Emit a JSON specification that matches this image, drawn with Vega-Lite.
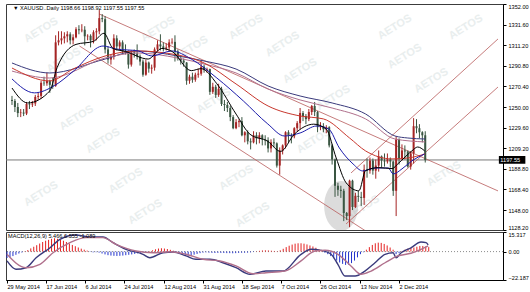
{
"$schema": "https://vega.github.io/schema/vega-lite/v6.json",
"padding": {"left": 3, "top": 3, "right": 2, "bottom": 2},
"background": "#ffffff",
"spacing": 2,
"bounds": "flush",
"config": {
  "view": {"stroke": "#3c3c3c", "strokeWidth": 1},
  "font": "Liberation Sans",
  "axis": {"labelFont": "Liberation Sans", "labelFontSize": 5.6, "labelColor": "#000000", "domainColor": "#000000", "tickColor": "#000000", "grid": false, "title": null, "labelOverlap": false, "labelBound": false}
},
"datasets": {
"candles": [
{"i":0,"o":1257,"h":1261,"l":1252,"c":1256,"m":-5},
{"i":1,"o":1256,"h":1258,"l":1245,"c":1250,"m":-4.5},
{"i":2,"o":1250,"h":1254,"l":1240,"c":1244,"m":-3.5},
{"i":3,"o":1244,"h":1248,"l":1240,"c":1244.5,"m":-2.5},
{"i":4,"o":1244.5,"h":1248,"l":1241,"c":1243.5,"m":-1.5},
{"i":5,"o":1243.5,"h":1255,"l":1242,"c":1253,"m":-0.7},
{"i":6,"o":1253,"h":1256,"l":1248,"c":1252.5,"m":0.3},
{"i":7,"o":1252.5,"h":1256,"l":1250,"c":1253.5,"m":1.2},
{"i":8,"o":1253.5,"h":1262,"l":1251,"c":1260,"m":2.5},
{"i":9,"o":1260,"h":1264,"l":1257,"c":1261,"m":3.8},
{"i":10,"o":1261,"h":1276,"l":1258,"c":1274,"m":5},
{"i":11,"o":1274,"h":1280,"l":1271,"c":1273.5,"m":6.3},
{"i":12,"o":1273.5,"h":1284,"l":1271,"c":1276,"m":7.5},
{"i":13,"o":1276,"h":1277,"l":1264,"c":1272,"m":8.5},
{"i":14,"o":1272,"h":1279,"l":1268,"c":1271,"m":9.2},
{"i":15,"o":1271,"h":1321,"l":1270,"c":1314,"m":10},
{"i":16,"o":1314,"h":1325,"l":1311,"c":1316,"m":10.4},
{"i":17,"o":1316,"h":1325,"l":1312,"c":1318,"m":10},
{"i":18,"o":1318,"h":1324,"l":1313,"c":1320,"m":9.3},
{"i":19,"o":1320,"h":1325,"l":1314,"c":1322,"m":8.5},
{"i":20,"o":1322,"h":1324,"l":1312,"c":1316,"m":7.5},
{"i":21,"o":1316,"h":1322,"l":1312,"c":1319,"m":6.3},
{"i":22,"o":1319,"h":1329,"l":1318,"c":1327,"m":5.2},
{"i":23,"o":1327,"h":1331,"l":1322,"c":1326,"m":4.2},
{"i":24,"o":1326,"h":1332,"l":1324,"c":1326.5,"m":3.2},
{"i":25,"o":1326.5,"h":1330,"l":1311,"c":1320,"m":2.3},
{"i":26,"o":1320,"h":1322,"l":1316,"c":1320.5,"m":1.5},
{"i":27,"o":1320.5,"h":1322,"l":1309,"c":1316,"m":0.8},
{"i":28,"o":1316,"h":1326,"l":1313,"c":1324,"m":-0.3},
{"i":29,"o":1324,"h":1328,"l":1316,"c":1325,"m":-0.6},
{"i":30,"o":1325,"h":1346,"l":1322,"c":1338,"m":-0.5},
{"i":31,"o":1338,"h":1342,"l":1334,"c":1337,"m":-0.8},
{"i":32,"o":1337,"h":1340,"l":1303,"c":1307,"m":-1.5},
{"i":33,"o":1307,"h":1310,"l":1293,"c":1297,"m":-2.2},
{"i":34,"o":1297,"h":1302,"l":1292,"c":1300,"m":-2.8},
{"i":35,"o":1300,"h":1322,"l":1297,"c":1318,"m":-3.1},
{"i":36,"o":1318,"h":1321,"l":1306,"c":1310,"m":-3.3},
{"i":37,"o":1310,"h":1316,"l":1306,"c":1314,"m":-3.4},
{"i":38,"o":1314,"h":1316,"l":1303,"c":1305,"m":-3.3},
{"i":39,"o":1305,"h":1312,"l":1302,"c":1304,"m":-3.1},
{"i":40,"o":1304,"h":1306,"l":1288,"c":1292,"m":-2.8},
{"i":41,"o":1292,"h":1306,"l":1290,"c":1304,"m":-2.5},
{"i":42,"o":1304,"h":1307,"l":1299,"c":1303,"m":-2.2},
{"i":43,"o":1303,"h":1312,"l":1297,"c":1300,"m":-1.8},
{"i":44,"o":1300,"h":1302,"l":1291,"c":1295,"m":-1.4},
{"i":45,"o":1295,"h":1297,"l":1280,"c":1282,"m":-1.0},
{"i":46,"o":1282,"h":1297,"l":1281,"c":1294,"m":-0.6},
{"i":47,"o":1294,"h":1295,"l":1284,"c":1288,"m":-0.2},
{"i":48,"o":1288,"h":1292,"l":1283,"c":1289,"m":0.3},
{"i":49,"o":1289,"h":1309,"l":1286,"c":1307,"m":1.0},
{"i":50,"o":1307,"h":1316,"l":1305,"c":1312,"m":1.8},
{"i":51,"o":1312,"h":1322,"l":1306,"c":1310,"m":2.4},
{"i":52,"o":1310,"h":1314,"l":1305,"c":1308,"m":2.6},
{"i":53,"o":1308,"h":1313,"l":1306,"c":1309,"m":2.4},
{"i":54,"o":1309,"h":1317,"l":1305,"c":1314,"m":2.0},
{"i":55,"o":1314,"h":1318,"l":1312,"c":1314.5,"m":1.4},
{"i":56,"o":1314.5,"h":1321,"l":1295,"c":1305,"m":0.7},
{"i":57,"o":1305,"h":1307,"l":1296,"c":1298,"m":-0.8},
{"i":58,"o":1298,"h":1300,"l":1292,"c":1296,"m":-1.6},
{"i":59,"o":1296,"h":1298,"l":1290,"c":1294,"m":-2.3},
{"i":60,"o":1294,"h":1294.5,"l":1272,"c":1276,"m":-2.9},
{"i":61,"o":1276,"h":1282,"l":1273,"c":1280,"m":-3.1},
{"i":62,"o":1280,"h":1284,"l":1274,"c":1277,"m":-2.9},
{"i":63,"o":1277,"h":1284,"l":1275,"c":1282,"m":-2.4},
{"i":64,"o":1282,"h":1288,"l":1279,"c":1283,"m":-1.8},
{"i":65,"o":1283,"h":1296,"l":1281,"c":1290,"m":-1.2},
{"i":66,"o":1290,"h":1292,"l":1284,"c":1287,"m":-0.8},
{"i":67,"o":1287,"h":1289,"l":1284,"c":1287.5,"m":-0.6},
{"i":68,"o":1287.5,"h":1288,"l":1262,"c":1265,"m":-0.8},
{"i":69,"o":1265,"h":1274,"l":1263,"c":1270,"m":-1.0},
{"i":70,"o":1270,"h":1272,"l":1259,"c":1262,"m":-1.1},
{"i":71,"o":1262,"h":1273,"l":1260,"c":1268,"m":-1.0},
{"i":72,"o":1268,"h":1270,"l":1251,"c":1253,"m":-1.0},
{"i":73,"o":1253,"h":1257,"l":1246,"c":1252,"m":-1.1},
{"i":74,"o":1252,"h":1255,"l":1245,"c":1249,"m":-1.2},
{"i":75,"o":1249,"h":1251,"l":1236,"c":1240,"m":-1.2},
{"i":76,"o":1240,"h":1242,"l":1228,"c":1229,"m":-1.3},
{"i":77,"o":1229,"h":1238,"l":1228,"c":1235,"m":-1.2},
{"i":78,"o":1235,"h":1238,"l":1230,"c":1236,"m":-1.0},
{"i":79,"o":1236,"h":1240,"l":1221,"c":1222,"m":-0.9},
{"i":80,"o":1222,"h":1226,"l":1215,"c":1225,"m":-0.9},
{"i":81,"o":1225,"h":1227,"l":1213,"c":1216,"m":-0.8},
{"i":82,"o":1216,"h":1219,"l":1208,"c":1215,"m":-0.6},
{"i":83,"o":1215,"h":1226,"l":1214,"c":1222,"m":-0.3},
{"i":84,"o":1222,"h":1225,"l":1213,"c":1219,"m":0.2},
{"i":85,"o":1219,"h":1225,"l":1214,"c":1222,"m":0.6},
{"i":86,"o":1222,"h":1223,"l":1212,"c":1218,"m":0.9},
{"i":87,"o":1218,"h":1222,"l":1212,"c":1217,"m":1.0},
{"i":88,"o":1217,"h":1220,"l":1205,"c":1209,"m":0.9},
{"i":89,"o":1209,"h":1218,"l":1205,"c":1215,"m":0.7},
{"i":90,"o":1215,"h":1219,"l":1210,"c":1214,"m":0.5},
{"i":91,"o":1214,"h":1215,"l":1190,"c":1192,"m":0.3},
{"i":92,"o":1192,"h":1210,"l":1183,"c":1207,"m":1.0},
{"i":93,"o":1207,"h":1213,"l":1203,"c":1212,"m":2.2},
{"i":94,"o":1212,"h":1226,"l":1209,"c":1225,"m":3.5},
{"i":95,"o":1225,"h":1227,"l":1215,"c":1222,"m":4.6},
{"i":96,"o":1222,"h":1224,"l":1214,"c":1221,"m":5.5},
{"i":97,"o":1221,"h":1230,"l":1219,"c":1229,"m":6.2},
{"i":98,"o":1229,"h":1236,"l":1226,"c":1234,"m":6.5},
{"i":99,"o":1234,"h":1249,"l":1228,"c":1244,"m":6.5},
{"i":100,"o":1244,"h":1246,"l":1236,"c":1241,"m":6.2},
{"i":101,"o":1241,"h":1243,"l":1233,"c":1238,"m":5.6},
{"i":102,"o":1238,"h":1248,"l":1236,"c":1245,"m":4.8},
{"i":103,"o":1245,"h":1252,"l":1242,"c":1251,"m":4.0},
{"i":104,"o":1251,"h":1255,"l":1241,"c":1245,"m":3.0},
{"i":105,"o":1245,"h":1246,"l":1225,"c":1230,"m":1.8},
{"i":106,"o":1230,"h":1235,"l":1227,"c":1231,"m":0.6},
{"i":107,"o":1231,"h":1234,"l":1225,"c":1228,"m":-0.8},
{"i":108,"o":1228,"h":1232,"l":1224,"c":1230,"m":-2.0},
{"i":109,"o":1230,"h":1231,"l":1210,"c":1212,"m":-3.5},
{"i":110,"o":1212,"h":1213,"l":1193,"c":1198,"m":-5.2},
{"i":111,"o":1198,"h":1199,"l":1161,"c":1172,"m":-7.0},
{"i":112,"o":1172,"h":1175,"l":1162,"c":1168,"m":-8.5},
{"i":113,"o":1168,"h":1172,"l":1160,"c":1167,"m":-9.6},
{"i":114,"o":1167,"h":1169,"l":1137,"c":1145,"m":-10.4},
{"i":115,"o":1145,"h":1146,"l":1138,"c":1142,"m":-10.2},
{"i":116,"o":1142,"h":1178,"l":1131,"c":1177,"m":-9.0},
{"i":117,"o":1177,"h":1178,"l":1148,"c":1151,"m":-7.0},
{"i":118,"o":1151,"h":1165,"l":1150,"c":1162,"m":-4.5},
{"i":119,"o":1162,"h":1167,"l":1156,"c":1161,"m":-2.0},
{"i":120,"o":1161,"h":1166,"l":1152,"c":1160,"m":-0.5},
{"i":121,"o":1160,"h":1193,"l":1153,"c":1188,"m":1.5},
{"i":122,"o":1188,"h":1199,"l":1180,"c":1187,"m":3.5},
{"i":123,"o":1187,"h":1200,"l":1184,"c":1197,"m":5.2},
{"i":124,"o":1197,"h":1199,"l":1183,"c":1187,"m":6.5},
{"i":125,"o":1187,"h":1198,"l":1179,"c":1192,"m":7.0},
{"i":126,"o":1192,"h":1207,"l":1186,"c":1201,"m":6.8},
{"i":127,"o":1201,"h":1202,"l":1190,"c":1197,"m":6.0},
{"i":128,"o":1197,"h":1204,"l":1191,"c":1196,"m":4.8},
{"i":129,"o":1196,"h":1204,"l":1194,"c":1198,"m":3.2},
{"i":130,"o":1198,"h":1200,"l":1190,"c":1196,"m":1.5},
{"i":131,"o":1196,"h":1197,"l":1162,"c":1167,"m":-2.0},
{"i":132,"o":1167,"h":1221,"l":1142,"c":1218,"m":-1.2},
{"i":133,"o":1218,"h":1219,"l":1193,"c":1199,"m":0.5},
{"i":134,"o":1199,"h":1213,"l":1197,"c":1207,"m":1.5},
{"i":135,"o":1207,"h":1212,"l":1198,"c":1206,"m":2.3},
{"i":136,"o":1206,"h":1207,"l":1190,"c":1191,"m":2.8},
{"i":137,"o":1191,"h":1206,"l":1188,"c":1204,"m":3.2},
{"i":138,"o":1204,"h":1239,"l":1194,"c":1231,"m":3.8},
{"i":139,"o":1231,"h":1238,"l":1224,"c":1229,"m":4.4},
{"i":140,"o":1229,"h":1233,"l":1219,"c":1225,"m":4.4},
{"i":141,"o":1225,"h":1226,"l":1215,"c":1222,"m":4.0},
{"i":142,"o":1222,"h":1226,"l":1195,"c":1197.55,"m":3.5}
],
"ma": [
{"s":"s1","i":0,"p":1293.6},{"s":"s1","i":13,"p":1283.7},{"s":"s1","i":32,"p":1297.5},{"s":"s1","i":43,"p":1305.5},{"s":"s1","i":57,"p":1300.5},{"s":"s1","i":66,"p":1295.6},{"s":"s1","i":77,"p":1287.6},{"s":"s1","i":88,"p":1270.8},{"s":"s1","i":99,"p":1260.9},{"s":"s1","i":110,"p":1254},{"s":"s1","i":121.5,"p":1243.1},{"s":"s1","i":131.6,"p":1221.3},{"s":"s1","i":136,"p":1219.3},{"s":"s1","i":142,"p":1218.3},
{"s":"s2","i":0,"p":1285.6},{"s":"s2","i":13,"p":1278.7},{"s":"s2","i":32,"p":1298.5},{"s":"s2","i":43,"p":1303.5},{"s":"s2","i":57,"p":1298.5},{"s":"s2","i":66,"p":1292.6},{"s":"s2","i":77,"p":1283.7},{"s":"s2","i":88,"p":1267.8},{"s":"s2","i":99,"p":1257},{"s":"s2","i":110,"p":1249},{"s":"s2","i":121.5,"p":1238.2},{"s":"s2","i":131.6,"p":1218.3},{"s":"s2","i":142,"p":1215.4},
{"s":"s3","i":0,"p":1288.6},{"s":"s3","i":13,"p":1275.8},{"s":"s3","i":21,"p":1287.6},{"s":"s3","i":32,"p":1300.5},{"s":"s3","i":43,"p":1305.5},{"s":"s3","i":55,"p":1302.5},{"s":"s3","i":66,"p":1293.6},{"s":"s3","i":77,"p":1272.8},{"s":"s3","i":88,"p":1251},{"s":"s3","i":99,"p":1241.1},{"s":"s3","i":107,"p":1238.2},{"s":"s3","i":116,"p":1219.3},{"s":"s3","i":121.5,"p":1206.5},{"s":"s3","i":130.6,"p":1198.6},{"s":"s3","i":136,"p":1199.5},{"s":"s3","i":142,"p":1203.5},
{"s":"s4","i":0,"p":1277.8},{"s":"s4","i":7.7,"p":1264},{"s":"s4","i":14.5,"p":1271},{"s":"s4","i":21.2,"p":1285.7},{"s":"s4","i":31.3,"p":1310.4},{"s":"s4","i":35.7,"p":1307.5},{"s":"s4","i":43.4,"p":1305.5},{"s":"s4","i":48.1,"p":1300.5},{"s":"s4","i":54.9,"p":1305.5},{"s":"s4","i":61.6,"p":1297.5},{"s":"s4","i":70.4,"p":1278.7},{"s":"s4","i":79.5,"p":1256},{"s":"s4","i":87.9,"p":1233.2},{"s":"s4","i":93.6,"p":1221.3},{"s":"s4","i":99,"p":1224.3},{"s":"s4","i":104.7,"p":1231.2},{"s":"s4","i":108.8,"p":1228.2},{"s":"s4","i":112.5,"p":1209.4},{"s":"s4","i":117.2,"p":1193.6},{"s":"s4","i":120.5,"p":1186.7},{"s":"s4","i":124.9,"p":1189.6},{"s":"s4","i":129.3,"p":1189.6},{"s":"s4","i":131,"p":1183.7},{"s":"s4","i":134,"p":1188.7},{"s":"s4","i":137.4,"p":1196.6},{"s":"s4","i":141.8,"p":1203.5},
{"s":"s5","i":0,"p":1268.8},{"s":"s5","i":5.4,"p":1254},{"s":"s5","i":13,"p":1266},{"s":"s5","i":15.5,"p":1289},{"s":"s5","i":22,"p":1312},{"s":"s5","i":28,"p":1315},{"s":"s5","i":31.6,"p":1323},{"s":"s5","i":34.7,"p":1308},{"s":"s5","i":39,"p":1305},{"s":"s5","i":46.8,"p":1297.5},{"s":"s5","i":51.5,"p":1308},{"s":"s5","i":55,"p":1305},{"s":"s5","i":61.6,"p":1286},{"s":"s5","i":65,"p":1288},{"s":"s5","i":70.4,"p":1273},{"s":"s5","i":77,"p":1243},{"s":"s5","i":81.8,"p":1223},{"s":"s5","i":87.9,"p":1216},{"s":"s5","i":92.3,"p":1206},{"s":"s5","i":97,"p":1223},{"s":"s5","i":103.7,"p":1233},{"s":"s5","i":108,"p":1228},{"s":"s5","i":111.4,"p":1199.5},{"s":"s5","i":114.8,"p":1175},{"s":"s5","i":119.2,"p":1167},{"s":"s5","i":121.5,"p":1187},{"s":"s5","i":126,"p":1190},{"s":"s5","i":130.6,"p":1189},{"s":"s5","i":132.7,"p":1194},{"s":"s5","i":137.4,"p":1206.5},{"s":"s5","i":139.4,"p":1210.4},{"s":"s5","i":141.8,"p":1206.5}
],
"macdl": [
{"s":"macd","i":0,"v":-7.3},{"s":"macd","i":3,"v":-13.8},{"s":"macd","i":6.4,"v":-12.6},{"s":"macd","i":9.8,"v":-4.8},{"s":"macd","i":14.5,"v":3.0},{"s":"macd","i":17.8,"v":9.6},{"s":"macd","i":23.2,"v":13},{"s":"macd","i":27.9,"v":11.4},{"s":"macd","i":32.3,"v":11.4},{"s":"macd","i":35.7,"v":7.0},{"s":"macd","i":40.1,"v":1.8},{"s":"macd","i":45.8,"v":-2.1},{"s":"macd","i":48.1,"v":-4.8},{"s":"macd","i":52.5,"v":-0.9},{"s":"macd","i":55.9,"v":-0.3},{"s":"macd","i":60.3,"v":-3.4},{"s":"macd","i":63.6,"v":-6.0},{"s":"macd","i":68.4,"v":-6.0},{"s":"macd","i":72.7,"v":-8.7},{"s":"macd","i":77.1,"v":-12.6},{"s":"macd","i":81.8,"v":-17.7},{"s":"macd","i":87.2,"v":-15.2},{"s":"macd","i":92.9,"v":-15.2},{"s":"macd","i":99,"v":-2.1},{"s":"macd","i":102.4,"v":1.8},{"s":"macd","i":105.7,"v":1.0},{"s":"macd","i":109.1,"v":-2.1},{"s":"macd","i":111.4,"v":-9.9},{"s":"macd","i":113.8,"v":-19.1},{"s":"macd","i":117.2,"v":-19.1},{"s":"macd","i":120.5,"v":-15.2},{"s":"macd","i":123.9,"v":-8.7},{"s":"macd","i":127.3,"v":-2.1},{"s":"macd","i":130,"v":-0.9},{"s":"macd","i":131,"v":-4.8},{"s":"macd","i":132.7,"v":-0.9},{"s":"macd","i":136,"v":3.0},{"s":"macd","i":139.4,"v":7.5},{"s":"macd","i":141.1,"v":7.0},{"s":"macd","i":141.8,"v":5.2},
{"s":"sig","i":0,"v":-2.1},{"s":"sig","i":6.4,"v":-12.6},{"s":"sig","i":11.1,"v":-9.9},{"s":"sig","i":15.5,"v":-0.9},{"s":"sig","i":21.2,"v":7.0},{"s":"sig","i":26.6,"v":10.9},{"s":"sig","i":32.3,"v":10.9},{"s":"sig","i":36.7,"v":5.7},{"s":"sig","i":43.4,"v":0.5},{"s":"sig","i":49.2,"v":-0.9},{"s":"sig","i":54.9,"v":-0.1},{"s":"sig","i":60.3,"v":-2.1},{"s":"sig","i":66,"v":-6.0},{"s":"sig","i":71.7,"v":-7.3},{"s":"sig","i":77.1,"v":-11.2},{"s":"sig","i":82.8,"v":-17.3},{"s":"sig","i":87.2,"v":-16.5},{"s":"sig","i":93.6,"v":-15.2},{"s":"sig","i":99,"v":-7.3},{"s":"sig","i":103.7,"v":0.5},{"s":"sig","i":107.1,"v":1.0},{"s":"sig","i":111.4,"v":-2.1},{"s":"sig","i":115.8,"v":-11.2},{"s":"sig","i":119.2,"v":-17.7},{"s":"sig","i":122.6,"v":-15.2},{"s":"sig","i":127.3,"v":-8.7},{"s":"sig","i":131.6,"v":-3.4},{"s":"sig","i":136,"v":-1.3},{"s":"sig","i":139.4,"v":1.8},{"s":"sig","i":141.8,"v":4.4}
],
"trend": [
{"i":29.97,"p":1342.1,"i2":167,"p2":1166.9},
{"i":23.2,"p":1310.4,"i2":121.5,"p2":1127.3},
{"i":116.5,"p":1184.7,"i2":167,"p2":1317.4},
{"i":114.8,"p":1134.2,"i2":167,"p2":1269.8}
],
"wm": [
{"i":10,"p":1326},{"i":50.2,"p":1327},{"i":80.5,"p":1329},{"i":93,"p":1312},{"i":131.6,"p":1329},{"i":156,"p":1329},
{"i":17.8,"p":1296},{"i":61.6,"p":1308},{"i":99,"p":1285.7},{"i":135,"p":1300},
{"i":22.2,"p":1239.1},{"i":69.4,"p":1256},{"i":110.4,"p":1258.9},{"i":144.1,"p":1276},
{"i":31.3,"p":1216.4},{"i":103.7,"p":1216.4},{"i":39.1,"p":1176.8},{"i":77.1,"p":1179.7},{"i":148.5,"p":1183.7},
{"i":10,"p":1163.9},{"i":45.8,"p":1146},{"i":82.8,"p":1143},{"i":120.5,"p":1150}
]
},
"vconcat": [
{
"width": 497,
"height": 226,
"layer": [
{"data": {"name": "wm"},
 "mark": {"type": "text", "text": "AETOS", "angle": -32, "fontSize": 11, "fontWeight": "bold", "baseline": "middle", "color": "#e9eeee", "clip": true},
 "encoding": {
  "x": {"field": "i", "type": "quantitative", "scale": {"domain": [-0.34, 167], "nice": false, "zero": false}, "axis": null},
  "y": {"field": "p", "type": "quantitative", "scale": {"domain": [1128.2, 1352], "nice": false, "zero": false},
        "axis": {"orient": "right", "values": [1352, 1331.6, 1311.2, 1290.8, 1270.4, 1250, 1229.6, 1209.2, 1188.8, 1168.4, 1148, 1128.2], "tickCount": 24, "format": ".2f", "labelFlush": true, "labelOverlap": false, "labelBound": false, "tickSize": 3, "labelPadding": 2, "domain": true}}
 }},
{"data": {"values": [{"i": 113.1, "p": 1152}]},
 "mark": {"type": "point", "shape": "M-0.68,0A0.68,1,0,1,0,0.68,0A0.68,1,0,1,0,-0.68,0Z", "size": 2500, "filled": true, "fill": "#a8a8a8", "opacity": 0.4, "strokeWidth": 0, "clip": true},
 "encoding": {"x": {"field": "i", "type": "quantitative"}, "y": {"field": "p", "type": "quantitative"}}},
{"data": {"values": [{"p": 1197.55}]},
 "mark": {"type": "rule", "color": "#7a7a7a", "strokeWidth": 1},
 "encoding": {"y": {"field": "p", "type": "quantitative"}}},
{"data": {"name": "trend"},
 "mark": {"type": "rule", "color": "#b85a5a", "strokeWidth": 0.8, "clip": true},
 "encoding": {"x": {"field": "i", "type": "quantitative"}, "y": {"field": "p", "type": "quantitative"}, "x2": {"field": "i2"}, "y2": {"field": "p2"}}},
{"data": {"name": "candles"},
 "mark": {"type": "rule", "strokeWidth": 1, "clip": true},
 "encoding": {"x": {"field": "i", "type": "quantitative"}, "y": {"field": "l", "type": "quantitative"}, "y2": {"field": "h"},
   "color": {"condition": {"test": "datum.c >= datum.o", "value": "#a52424"}, "value": "#3a5642"}}},
{"data": {"name": "candles"},
 "mark": {"type": "bar", "size": 2, "clip": true},
 "encoding": {"x": {"field": "i", "type": "quantitative"}, "y": {"field": "o", "type": "quantitative"}, "y2": {"field": "c"},
   "color": {"condition": {"test": "datum.c >= datum.o", "value": "#a52424"}, "value": "#3a5642"}}},
{"data": {"name": "ma"},
 "mark": {"type": "line", "interpolate": "monotone", "clip": true},
 "encoding": {"x": {"field": "i", "type": "quantitative"}, "y": {"field": "p", "type": "quantitative"},
   "color": {"field": "s", "type": "nominal", "scale": {"domain": ["s1", "s2", "s3", "s4", "s5"], "range": ["#3a3a7c", "#b0708c", "#c8372d", "#1c1caa", "#000000"]}, "legend": null},
   "strokeWidth": {"field": "s", "type": "nominal", "scale": {"domain": ["s1", "s2", "s3", "s4", "s5"], "range": [1, 1, 1.5, 2.2, 1]}, "legend": null}}},
{"data": {"values": [{"t": "1197.55"}]},
 "mark": {"type": "rect", "fill": "#000000", "clip": false},
 "encoding": {"x": {"datum": 167.3}, "x2": {"datum": 176.4}, "y": {"datum": 1201.4}, "y2": {"datum": 1193.7}}},
{"data": {"values": [{"t": "1197.55"}]},
 "mark": {"type": "text", "align": "left", "baseline": "middle", "color": "#ffffff", "fontSize": 5.6, "clip": false},
 "encoding": {"x": {"datum": 167.8}, "y": {"datum": 1197.55}, "text": {"field": "t"}}},
{"data": {"values": [{"t": "▼ XAUUSD..Daily  1198.66 1198.92 1197.55 1197.55"}]},
 "mark": {"type": "text", "align": "left", "baseline": "top", "dx": 2, "dy": 2, "color": "#000000", "fontSize": 5.6},
 "encoding": {"x": {"datum": -0.34}, "y": {"datum": 1352}, "text": {"field": "t"}}}
]
},
{
"width": 497,
"height": 48,
"layer": [
{"data": {"values": [{"v": 0}]},
 "mark": {"type": "rule", "color": "#8c8c8c", "strokeDash": [1, 2], "strokeWidth": 1},
 "encoding": {"y": {"field": "v", "type": "quantitative", "scale": {"domain": [-22.187, 15.317], "nice": false, "zero": false},
   "axis": {"orient": "right", "values": [-22.187, 0, 15.317], "tickCount": 10, "labelExpr": "datum.value == 0 ? '0.00' : format(datum.value, '.3f')", "labelFlush": true, "labelOverlap": false, "labelBound": false, "tickSize": 3, "labelPadding": 2, "domain": true}}}},
{"data": {"name": "candles"},
 "mark": {"type": "rule", "strokeWidth": 1},
 "encoding": {
   "x": {"field": "i", "type": "quantitative", "scale": {"domain": [-0.34, 167], "nice": false, "zero": false},
     "axis": {"orient": "bottom", "values": [0, 13.1, 26.3, 39.4, 52.9, 66, 79.1, 92.3, 105.4, 118.9, 132], "tickCount": 30, "labelExpr": "datum.value < 6 ? '29 May 2014' : datum.value < 19 ? '17 Jun 2014' : datum.value < 32 ? '6 Jul 2014' : datum.value < 45 ? '24 Jul 2014' : datum.value < 59 ? '12 Aug 2014' : datum.value < 72 ? '31 Aug 2014' : datum.value < 85 ? '18 Sep 2014' : datum.value < 98 ? '7 Oct 2014' : datum.value < 111 ? '26 Oct 2014' : datum.value < 125 ? '13 Nov 2014' : '2 Dec 2014'", "labelAlign": "left", "labelPadding": 1, "tickSize": 3, "labelFlush": false, "labelOverlap": false, "labelBound": false, "domain": true}},
   "y": {"field": "m", "type": "quantitative"}, "y2": {"datum": 0},
   "color": {"condition": {"test": "datum.m >= 0", "value": "#e32020"}, "value": "#2233cc"}}},
{"data": {"name": "macdl"},
 "mark": {"type": "line", "interpolate": "monotone", "strokeWidth": 1.4},
 "encoding": {"x": {"field": "i", "type": "quantitative"}, "y": {"field": "v", "type": "quantitative"},
   "color": {"field": "s", "type": "nominal", "scale": {"domain": ["macd", "sig"], "range": ["#10188c", "#cc2a2a"]}, "legend": null}}},
{"data": {"values": [{"t": "MACD(12,26,9) 5.466 6.555 -1.089"}]},
 "mark": {"type": "text", "align": "left", "baseline": "top", "dx": 2, "dy": 2, "color": "#000000", "fontSize": 5.6},
 "encoding": {"x": {"datum": -0.34}, "y": {"datum": 15.317}, "text": {"field": "t"}}}
]
}
]
}
